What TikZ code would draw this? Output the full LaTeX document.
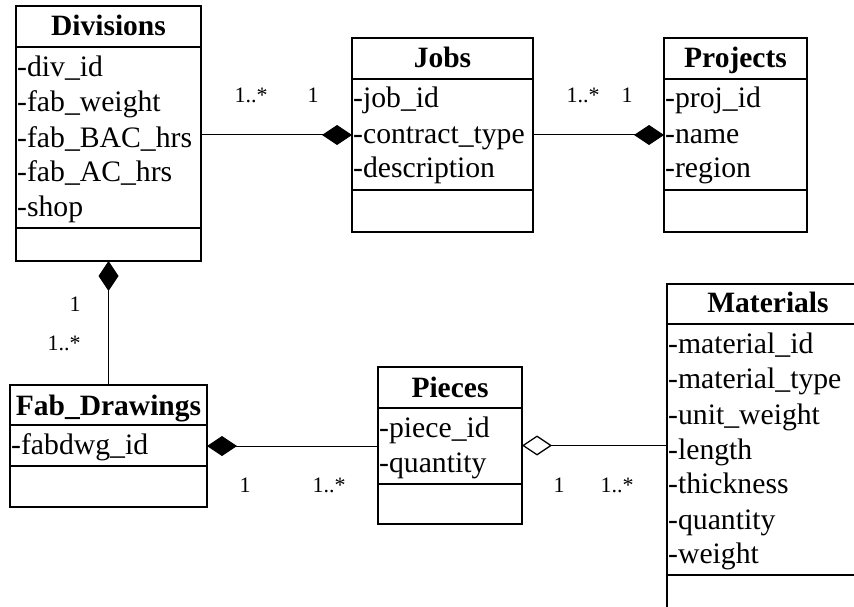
\documentclass[tikz,border=0pt]{standalone}
\usepackage{fontspec}
\setmainfont{Liberation Serif}
\usetikzlibrary{arrows.meta}
\begin{document}
\begin{tikzpicture}[x=1pt,y=-1pt,
  cls/.style={draw, line width=1.5pt, rectangle, inner sep=0pt, outer sep=0pt, anchor=north west},
  sep/.style={line width=1.5pt},
  title/.style={font=\fontsize{29.5}{34}\selectfont\bfseries, anchor=base, inner sep=0pt},
  attr/.style={font=\fontsize{29.7}{34}\selectfont, anchor=base west, inner sep=0pt},
  mult/.style={font=\fontsize{22}{26}\selectfont, anchor=base, inner sep=0pt},
  link/.style={line width=1pt},
  comp/.style={link, -{Diamond[length=30pt, width=20pt]}},
  aggr/.style={link, -{Diamond[open, length=30pt, width=20pt, line width=1.3pt]}}
]
\clip (0,0) rectangle (854,607);
\fill[white] (0,0) rectangle (854,607);

% Divisions
\node[cls, minimum width=185pt, minimum height=255pt] (div) at (16,6) {};
\draw[sep] (div.west |- 0,47) -- (div.east |- 0,47);
\draw[sep] (div.west |- 0,228) -- (div.east |- 0,228);
\node[title] (divt) at (108.5,36) {Divisions};
\node[attr] (d1) at (17,77) {-div\_id};
\node[attr] (d2) at (17,112) {-fab\_weight};
\node[attr] (d3) at (17,147) {-fab\_BAC\_hrs};
\node[attr] (d4) at (17,182) {-fab\_AC\_hrs};
\node[attr] (d5) at (17,216) {-shop};

% Jobs
\node[cls, minimum width=181pt, minimum height=194pt] (jobs) at (352,38) {};
\draw[sep] (jobs.west |- 0,79) -- (jobs.east |- 0,79);
\draw[sep] (jobs.west |- 0,190) -- (jobs.east |- 0,190);
\node[title] (jobst) at (442.5,68) {Jobs};
\node[attr] (j1) at (353,108) {-job\_id};
\node[attr] (j2) at (353,143) {-contract\_type};
\node[attr] (j3) at (353,178) {-description};

% Projects
\node[cls, minimum width=143pt, minimum height=194pt] (proj) at (664,38) {};
\draw[sep] (proj.west |- 0,79) -- (proj.east |- 0,79);
\draw[sep] (proj.west |- 0,190) -- (proj.east |- 0,190);
\node[title] (projt) at (735.5,68) {Projects};
\node[attr] (p1) at (665,108) {-proj\_id};
\node[attr] (p2) at (665,143) {-name};
\node[attr] (p3) at (665,178) {-region};

% Fab_Drawings
\node[cls, minimum width=197pt, minimum height=122pt] (fab) at (10,385) {};
\draw[sep] (fab.west |- 0,425) -- (fab.east |- 0,425);
\draw[sep] (fab.west |- 0,466) -- (fab.east |- 0,466);
\node[title] (fabt) at (108.5,415) {Fab\_Drawings};
\node[attr] (f1) at (11,454) {-fabdwg\_id};

% Pieces
\node[cls, minimum width=144pt, minimum height=157pt] (pcs) at (378,367) {};
\draw[sep] (pcs.west |- 0,408) -- (pcs.east |- 0,408);
\draw[sep] (pcs.west |- 0,484) -- (pcs.east |- 0,484);
\node[title] (pcst) at (450,397) {Pieces};
\node[attr] (c1) at (379,437) {-piece\_id};
\node[attr] (c2) at (379,472) {-quantity};

% Materials (runs off the page)
\node[cls, minimum width=230pt, minimum height=360pt] (mat) at (667,284) {};
\draw[sep] (mat.west |- 0,324) -- (mat.east |- 0,324);
\draw[sep] (mat.west |- 0,575) -- (mat.east |- 0,575);
\node[title] (matt) at (768,312) {Materials};
\node[attr] (m1) at (668,353) {-material\_id};
\node[attr] (m2) at (668,388) {-material\_type};
\node[attr] (m3) at (668,424) {-unit\_weight};
\node[attr] (m4) at (668,459) {-length};
\node[attr] (m5) at (668,493) {-thickness};
\node[attr] (m6) at (668,529) {-quantity};
\node[attr] (m7) at (668,563) {-weight};

% Connectors
\draw[comp] (div.east |- jobs.west) -- (jobs.west);
\draw[comp] (jobs.east) -- (proj.west);
\draw[comp] (fab.north) -- (div.south);
\draw[comp] (pcs.west |- fab.east) -- (fab.east);
\draw[aggr] (mat.west |- pcs.east) -- (pcs.east);

% Multiplicities
\node[mult] (l1) at (251,103) {1..*};
\node[mult] (l2) at (313,103) {1};
\node[mult] (l3) at (583,103) {1..*};
\node[mult] (l4) at (627,103) {1};
\node[mult] (l5) at (75,311) {1};
\node[mult] (l6) at (64,350) {1..*};
\node[mult] (l7) at (245,492) {1};
\node[mult] (l8) at (329,492) {1..*};
\node[mult] (l9) at (559,492) {1};
\node[mult] (l10) at (617,492) {1..*};
\end{tikzpicture}
\end{document}
